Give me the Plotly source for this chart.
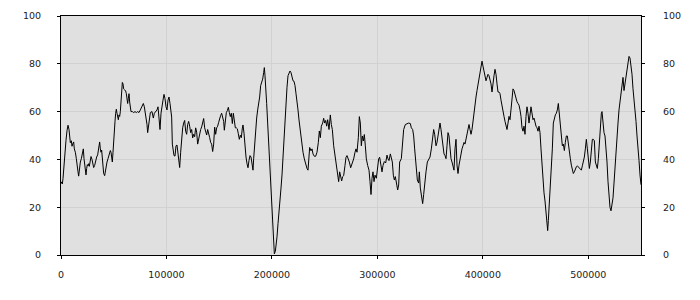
import plotly.graph_objects as go

# --- data (x position, value) ---
xa = [0, 1264, 1897, 2529, 3161, 3793, 4742, 5690, 6638, 7586,
      8219, 8851, 9799, 10431, 11064, 12012, 12644, 13592, 14541, 15173,
      16121, 16753, 17702, 18334, 19282, 19914, 20547, 21179, 21811, 22443,
      23075, 23708, 24340, 24972, 25604, 26236, 26869, 27817, 28449, 29397,
      30346, 30978, 31926, 32874, 33823, 34771, 35719, 36668, 37300, 37932,
      38564, 39196, 39829, 40461, 41409, 42041, 42990, 43622, 44570, 45518,
      46151, 46783, 47415, 48047, 48680, 49312, 49944, 50576, 51208, 51841,
      52473, 53105, 53737, 54370, 55002, 55634, 56266, 56898, 57531, 58163,
      58795, 59427, 60376, 61324, 61956, 62589, 63221, 63853, 64485, 65117,
      65750, 66382, 67646, 68911, 70175, 71440, 72704, 73969, 75233, 76181,
      77130, 78078, 79026, 79975, 80923, 81555, 82187, 82820, 83768, 84716]
ya = [30.7, 29.7, 32, 36, 40, 45, 48, 52, 54.3, 52.5,
      50.5, 47, 47.8, 45.5, 46.4, 47.3, 44.4, 43, 40.3, 36.9,
      34.8, 33, 37.5, 38.9, 40.3, 42.3, 43.7, 44.4, 40.3, 37.5,
      35.5, 33.5, 36.2, 37.8, 37.3, 38.2, 37.1, 39.6, 41.2, 40,
      38.2, 36.6, 37.5, 39.6, 41, 41.9, 44.4, 47.3, 44.4, 43,
      43.9, 38.9, 35.5, 34.1, 33.2, 35.5, 37.5, 38.9, 40.3, 41.4,
      42.3, 43.7, 43, 41.6, 38.9, 43, 49.8, 52.5, 55.9, 59.3,
      61, 59.3, 57.3, 56.6, 58.6, 58, 60, 63.4, 67.5, 72.2,
      71.6, 69.5, 69.1, 68.6, 67.5, 64.8, 63.4, 65.5, 67.5, 64,
      62, 60, 60, 59.6, 60, 59.6, 60, 59.6, 60.7, 61.4,
      62.3, 63.4, 62, 59.3, 58, 54.6, 51.2, 53.9, 58, 59.6]

xb = [86292, 87556, 88505, 89769, 91034, 91982, 92930, 93878, 94827, 95775,
      96723, 97672, 98620, 99568, 100517, 101465, 102413, 103361, 104310, 104942,
      105574, 106206, 107155, 108103, 109051, 110000, 110948, 111896, 112528, 113477,
      114425, 115373, 116322, 117270, 118218, 119166, 120115, 121063, 122011, 122960,
      123908, 124856, 125805, 126753, 127701, 128649, 129598, 130546, 131494, 132443,
      133391, 134339, 135288, 136236, 137184, 138132, 139081, 140029, 140977, 141926,
      142874, 143822, 144771, 145719, 146667, 147615, 148564, 149512, 150460, 151409,
      152357, 153305, 154254, 154886, 155834, 156782, 157731, 158679, 159627, 160576,
      161524, 162472, 163420, 164369, 165317, 166265, 167214, 168162, 169110, 170059,
      171007, 171955, 172587, 173536, 174484]
yb = [60.0, 57.3, 59.3, 60.0, 60.7, 62.0, 57.3, 52.5, 59.3, 63.4,
      64.8, 67.2, 65.4, 62.0, 60.7, 64.8, 66.1, 63.4, 60.0, 57.7,
      46.4, 43.0, 41.6, 41.4, 45.7, 46.0, 41.6, 38.9, 36.6, 43.0,
      49.1, 53.2, 55.2, 56.3, 51.8, 50.5, 54.6, 55.9, 53.9, 51.2,
      52.5, 49.0, 50.5, 49.5, 53.2, 51.4, 46.4, 48.4, 51.2, 52.5,
      53.6, 55.0, 57.1, 53.2, 50.9, 50.2, 52.5, 51.2, 49.1, 47.1,
      46.4, 43.3, 46.4, 53.5, 50.5, 53.2, 53.9, 55.5, 57.3, 58.4,
      59.3, 57.3, 55.9, 52.2, 57.3, 59.6, 60.4, 61.8, 59.6, 57.9,
      59.3, 55.0, 59.3, 56.9, 53.2, 53.2, 52.8, 50.7, 48.4, 50.1,
      49.1, 53.1, 54.4, 51.0, 44.1]

xc = [175435, 176383, 177331, 178280, 179228, 180176, 181125, 182073, 182705, 183653,
      184602, 185550, 186498, 187447, 188395, 189343, 190291, 191240, 192188, 192820,
      193453, 194085, 195033, 195981, 196930, 197878, 198826, 199775, 200407, 201039,
      201671, 202303, 203252, 203884, 204832, 205781, 206729, 207677, 208625, 209574,
      210522, 211470, 212418, 213367, 214315, 215263, 216212, 217160, 218108, 219057,
      220005, 220953, 221901, 222850, 223798, 224746, 225695, 226643]
yc = [41.0, 38.2, 36.5, 39.6, 41.6, 41.0, 37.6, 35.5, 40.3, 47.1,
      52.5, 57.3, 60.7, 62.7, 66.1, 70.9, 72.2, 73.6, 76.3, 78.4,
      75.0, 71.6, 63.4, 55.2, 47.1, 38.9, 30.7, 22.6, 15.1, 9.0,
      4.2, 0.5, 1.5, 3.5, 7.6, 13.1, 17.1, 22.6, 28.0, 33.5,
      41.6, 49.8, 59.3, 66.1, 70.2, 75.0, 76.3, 77.0, 76.3, 75.0,
      72.9, 72.7, 70.9, 67.5, 64.8, 60.7, 56.5, 52.5]

xd = [227589, 228538, 229486, 230750, 231699, 233279, 234227, 234860, 235808, 237073,
      238021, 238969, 240234, 241498, 242762, 244027, 244975, 245923, 246871, 248136,
      249084, 250032, 250981, 251929, 252877, 254142, 255406, 256354, 257303, 258567,
      260148, 261096, 262361, 263309, 264257, 265206, 266154, 267102, 268050, 269315,
      270263, 271211, 272476, 273424, 274689, 275637, 276585, 277534, 278798, 279746,
      280695, 281959, 282907, 283856, 284804, 285752, 286701, 287649, 288597, 289546,
      290810, 292074, 293023, 293971, 294919, 295868, 296816, 297764, 299029, 300293,
      301241, 302190, 303138, 304403, 305351, 306615, 307880, 309144, 310093, 311041,
      312305, 313254, 314202, 315150, 316099, 317047, 317995, 319260, 320208, 321157]
yd = [49.1, 45.7, 43.0, 40.2, 38.2, 36.2, 35.5, 40.2, 45.0, 43.6,
      44.4, 42.3, 41.3, 41.3, 43.0, 47.1, 51.9, 49.1, 53.9, 55.2,
      57.2, 55.2, 56.3, 53.9, 56.6, 52.5, 58.6, 54.6, 52.5, 45.7,
      40.2, 37.5, 33.4, 30.7, 34.8, 33.4, 31.0, 32.8, 33.2, 37.5,
      40.9, 41.6, 40.2, 38.9, 36.5, 37.5, 38.9, 40.2, 43.0, 44.4,
      43.0, 49.1, 57.9, 55.2, 45.7, 49.8, 47.7, 50.4, 45.7, 40.2,
      37.5, 35.5, 30.7, 25.3, 32.1, 34.8, 30.7, 33.4, 32.1, 37.0,
      40.2, 40.9, 38.9, 34.8, 37.5, 39.1, 38.5, 41.8, 40.2, 39.5,
      42.3, 40.5, 38.9, 33.4, 31.4, 32.8, 30.7, 27.2, 29.3, 38.9]

xe = [322735, 323683, 324948, 326528, 328109, 329689, 331270, 332218, 333483, 334431,
      335379, 336644, 337908, 339173, 339805, 340753, 342018, 342966, 343915, 344863,
      346127, 347392, 348656, 349921, 351185, 352449, 353398, 354346]
ye = [40.3, 44.4, 52.5, 54.6, 55.0, 55.2, 55.0, 53.2, 52.5, 49.8,
      44.4, 36.2, 31.4, 30.1, 34.8, 28.0, 22.6, 21.5, 25.3, 30.7,
      34.8, 38.9, 40.3, 41.0, 44.4, 49.8, 52.5, 50.5]

xf = [355606, 356554, 357502, 358451, 359399, 360347, 361296, 362244, 363192, 364140,
      365089, 366037, 366985, 367934, 368882, 369830, 370779, 371727, 372675, 373623,
      374572, 375520, 376468, 377417, 378365, 379313, 380262, 381210, 382158, 383106,
      384055, 385003, 385951, 386900, 387848, 388796, 389745, 390693, 391641, 392589,
      393538, 394486, 395434, 396383, 397331, 398279, 399228, 400176, 401124, 402072,
      403021, 403969, 404917, 405866, 406814, 407762, 408711, 409659, 410607, 411556,
      412504, 413452, 414400, 415349, 416297, 417245, 418194, 419142, 420090, 421039,
      421987, 422935, 423883, 424832, 425780, 426728, 427677, 428625, 429573, 430522,
      431470, 432418, 433366, 434315, 435263, 436211, 437160, 438108, 439056, 440005,
      440953, 441901, 442849, 443798]
yf = [45.7, 47.1, 50.5, 53.2, 55.2, 52.5, 48.4, 44.4, 42.3, 41.6,
      40.3, 45.7, 51.2, 49.8, 43.0, 40.3, 38.9, 37.6, 35.5, 44.4,
      48.4, 37.6, 34.1, 37.6, 40.3, 42.3, 44.4, 45.7, 47.1, 46.4,
      48.4, 50.5, 53.2, 54.6, 52.5, 50.5, 52.5, 56.6, 60.0, 62.7,
      66.1, 68.8, 71.6, 74.3, 77.0, 79.0, 81.1, 79.0, 77.0, 73.6,
      72.9, 74.3, 75.6, 75.0, 73.6, 71.6, 68.2, 72.9, 75.0, 77.7,
      75.6, 71.6, 68.2, 68.2, 67.5, 64.8, 62.0, 59.3, 58.0, 55.9,
      53.9, 52.5, 55.2, 58.0, 56.6, 60.7, 65.4, 69.5, 68.8, 66.8,
      65.4, 64.1, 63.4, 62.7, 60.7, 58.0, 53.2, 51.8, 53.9, 50.5,
      58.0, 62.0, 59.3, 55.2]

xg = [445700, 446648, 447596, 448545, 449493, 450441, 451390, 452338, 453286, 454234,
      455183, 456131, 457079, 458028, 458976, 459924, 460873, 461505, 462137, 463085,
      464034, 464982, 465930, 466878, 467827, 468775, 469723, 470672, 471620, 472568,
      473517, 474465, 475413, 476361, 477310, 478258, 479206, 480155, 481103, 482051,
      482999, 483948, 484896, 485844, 486793, 487741, 488689, 489638, 490586, 491534,
      492483, 493431, 494379, 495327, 496276, 497224, 498172, 499121, 500069, 501017,
      501966, 502914, 503862, 504810, 505759, 506707, 507655, 508604, 509552, 510500,
      511449, 512397, 513029, 513977, 514926, 515874, 516822, 517771, 518719, 519667,
      520615, 521564, 522512, 523460, 524409, 525357, 526305, 527254, 528202, 529150,
      530098, 531047, 531995, 532943, 533892, 534840, 535788, 536737, 537685, 538633,
      539582, 540530, 541478, 542427, 543375, 544323, 545272, 546220, 547168, 548117,
      549065, 550000]
yg = [62.0, 59.3, 56.6, 57.3, 55.2, 53.9, 53.2, 51.8, 53.9, 51.2,
      44.4, 36.9, 30.7, 26.0, 22.6, 18.5, 13.7, 10.2, 14.4, 21.2,
      28.0, 36.2, 44.4, 55.2, 57.3, 58.6, 59.3, 60.7, 63.4, 59.3,
      52.5, 48.4, 45.7, 46.4, 43.7, 47.1, 49.8, 49.8, 45.7, 43.7,
      40.3, 37.6, 35.5, 34.1, 34.8, 36.2, 36.9, 37.3, 36.9, 36.2,
      36.2, 35.5, 37.3, 38.9, 41.0, 44.4, 48.4, 44.4, 41.0, 36.2,
      38.9, 43.0, 48.4, 48.4, 47.8, 38.9, 37.6, 36.2, 40.3, 47.1,
      55.2, 59.3, 60.0, 53.9, 51.2, 49.8, 45.7, 38.9, 30.7, 23.9,
      19.9, 18.5, 20.5, 23.9, 30.1, 37.6, 45.7, 50.5, 55.2, 60.7,
      64.8, 68.8, 71.6, 74.3, 68.8, 71.6, 74.3, 77.0, 79.0, 83.1,
      82.4, 79.0, 75.6, 69.5, 65.4, 62.0, 55.9, 49.8, 45.7, 39.6,
      33.5, 29.4]

x_ticks = [0, 100000, 200000, 300000, 400000, 500000]
y_ticks = [0, 20, 40, 60, 80, 100]

X = xa + xb + xc + xd + xe + xf + xg
Y = ya + yb + yc + yd + ye + yf + yg
n = min(len(X), len(Y))
X, Y = X[:n], Y[:n]

FONT = dict(family="DejaVu Sans", size=9.5, color="#222222")

fig = go.Figure()
fig.add_trace(go.Scatter(x=X, y=Y, mode="lines",
                         line=dict(color="#000000", width=1), showlegend=False,
                         hoverinfo="skip"))
fig.add_trace(go.Scatter(x=X, y=Y, mode="lines", yaxis="y2",
                         line=dict(color="rgba(0,0,0,0)", width=1), showlegend=False,
                         hoverinfo="skip"))

axis_common = dict(showline=True, linecolor="#000000", linewidth=1,
                   ticks="outside", ticklen=3, tickcolor="#000000", tickwidth=1,
                   tickfont=FONT, zeroline=False)

fig.update_layout(
    width=700, height=300,
    margin=dict(l=61, r=59, t=10, b=45),
    paper_bgcolor="#ffffff",
    plot_bgcolor="#e0e0e0",
    xaxis=dict(range=[0, 550000], tickvals=x_ticks, tickformat="d",
               showgrid=True, gridcolor="#d2d2d2", gridwidth=1,
               mirror=True, ticklabelstandoff=8, **axis_common),
    yaxis=dict(range=[0, 100], tickvals=y_ticks,
               showgrid=True, gridcolor="#d2d2d2", gridwidth=1,
               ticklabelstandoff=14, **axis_common),
    yaxis2=dict(range=[0, 100], tickvals=y_ticks, overlaying="y", side="right",
                showgrid=False, ticklabelstandoff=16, **axis_common),
)

fig.write_html("out.html")
